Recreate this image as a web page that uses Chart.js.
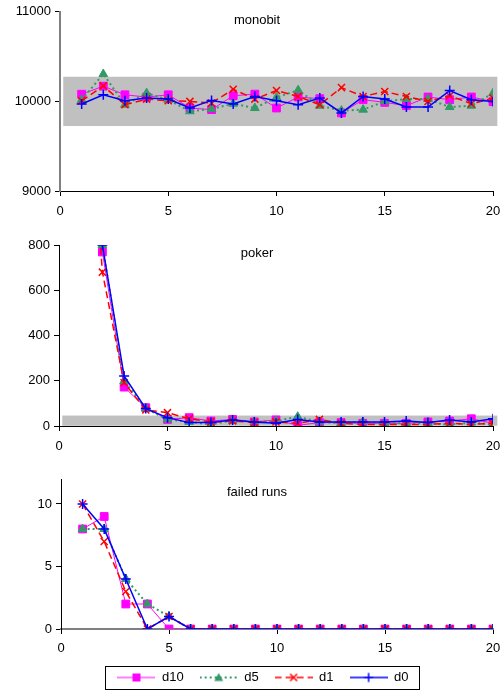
<!DOCTYPE html>
<html>
<head>
<meta charset="utf-8">
<script src="https://cdn.jsdelivr.net/npm/chart.js@4.4.1/dist/chart.umd.min.js"></script>
<style>
  html, body { margin: 0; padding: 0; background: #fff; overflow: hidden; }
  canvas { position: absolute; left: 0; }
</style>
</head>
<body>
<canvas id="monobit" width="503" height="222" style="top:0px"></canvas>
<canvas id="poker" width="503" height="236" style="top:222px"></canvas>
<canvas id="runs" width="503" height="237" style="top:458px"></canvas>
<script>
// run index (x axis)
const runIdx = [1, 2, 3, 4, 5, 6, 7, 8, 9, 10, 11, 12, 13, 14, 15, 16, 17, 18, 19, 20];
const seriesNames = ['d10', 'd5', 'd1', 'd0'];

// monobit test
const monoD10 = [10080, 10170, 10074, 10048, 10074, 9926, 9908, 10063, 10081, 9926, 10049, 10030, 9871, 10019, 9989, 9952, 10049, 10019, 10049, 9997];
const monoD5 = [10018, 10305, 9963, 10092, 10018, 9890, 9915, 9974, 9926, 10044, 10125, 9952, 9897, 9908, 10000, 10026, 10026, 9937, 9952, 10092];
const monoD1 = [10007, 10173, 9963, 10026, 10007, 10000, 9982, 10136, 10026, 10121, 10055, 9963, 10154, 10055, 10110, 10055, 10000, 10063, 9974, 10037];
const monoD0 = [9971, 10074, 10007, 10037, 10026, 9926, 10011, 9971, 10055, 10007, 9963, 10037, 9871, 10055, 10026, 9937, 9937, 10121, 10018, 10000];
const monoBand = [9725, 10275];

// poker test
const pokerD10 = [2500, 769, 172, 81, 29, 37, 22, 29, 18, 27, 3, 15, 15, 12, 12, 12, 18, 22, 32, 12];
const pokerD5 = [2500, 800, 199, 77, 29, 18, 7, 25, 18, 22, 41, 18, 12, 18, 12, 12, 12, 6, 15, 7];
const pokerD1 = [2000, 680, 191, 71, 59, 32, 18, 22, 15, 18, 12, 29, 12, 7, 7, 7, 7, 12, 7, 12];
const pokerD0 = [2500, 800, 221, 77, 37, 15, 15, 27, 18, 12, 29, 18, 18, 18, 18, 22, 15, 27, 18, 32];
const pokerBand = [1, 46.17];

// failed runs
const runsD10 = [8, 9, 2, 2, 0, 0, 0, 0, 0, 0, 0, 0, 0, 0, 0, 0, 0, 0, 0, 0];
const runsD5 = [8, 8, 4, 2, 1, 0, 0, 0, 0, 0, 0, 0, 0, 0, 0, 0, 0, 0, 0, 0];
const runsD1 = [10, 7, 3, 0, 1, 0, 0, 0, 0, 0, 0, 0, 0, 0, 0, 0, 0, 0, 0, 0];
const runsD0 = [10, 8, 4, 0, 1, 0, 0, 0, 0, 0, 0, 0, 0, 0, 0, 0, 0, 0, 0, 0];

Chart.defaults.font.family = "'Liberation Sans', Arial, sans-serif";
Chart.defaults.font.size = 13;
Chart.defaults.color = '#000';

const styles = [
  { color: '#FF00FF', point: 'rect', radius: 5.5, width: 1, dash: [], order: 3 },
  { color: '#339966', point: 'triangle', radius: 5, width: 2, dash: [2, 3], order: 2 },
  { color: '#FF0000', point: 'crossRot', radius: 5, width: 1.5, dash: [7, 4], order: 1 },
  { color: '#0000FF', point: 'cross', radius: 5, width: 1.5, dash: [], order: 0 }
];

function makeSets(lists) {
  return lists.map((vals, i) => {
    const s = styles[i];
    return {
      label: seriesNames[i],
      data: vals.map((v, j) => ({ x: runIdx[j], y: v })),
      borderColor: s.color,
      backgroundColor: s.color,
      borderWidth: s.width,
      borderDash: s.dash,
      pointStyle: s.point,
      pointRadius: s.radius,
      pointBorderColor: s.color,
      pointBackgroundColor: s.color,
      pointBorderWidth: s.point.startsWith('cross') ? 1.5 : 1,
      tension: 0,
      order: s.order
    };
  });
}

// gray acceptance band + panel title + legend frame
const panelPlugin = {
  id: 'panel',
  beforeDatasetsDraw(chart, args, opts) {
    if (!opts.band) return;
    const { ctx, scales: { x, y } } = chart;
    const x0 = x.getPixelForValue(0.15), x1 = x.getPixelForValue(20.2);
    const y0 = y.getPixelForValue(opts.band[1]), y1 = y.getPixelForValue(opts.band[0]);
    ctx.save();
    ctx.fillStyle = '#C0C0C0';
    ctx.fillRect(x0, y0, x1 - x0, y1 - y0);
    ctx.restore();
  },
  afterDraw(chart, args, opts) {
    const ctx = chart.ctx;
    ctx.save();
    ctx.font = "13px 'Liberation Sans', Arial, sans-serif";
    ctx.fillStyle = '#000';
    ctx.textAlign = 'center';
    ctx.textBaseline = 'middle';
    ctx.fillText(opts.title, 257, opts.titleY);
    if (opts.legendBox && chart.legend && chart.legend.legendHitBoxes.length) {
      const hb = chart.legend.legendHitBoxes;
      const l = hb[0].left - 12, r = hb[hb.length - 1].left + hb[hb.length - 1].width + 11;
      const t = hb[0].top + hb[0].height / 2 - 11.5;
      ctx.strokeStyle = '#000';
      ctx.lineWidth = 1;
      ctx.strokeRect(Math.round(l) + 0.5, Math.round(t) + 0.5, Math.round(r - l), 23);
    }
    ctx.restore();
  }
};

function legendIcon(s) {
  const c = document.createElement('canvas');
  c.width = 38; c.height = 14;
  const g = c.getContext('2d');
  g.strokeStyle = s.color; g.fillStyle = s.color;
  g.lineWidth = s.width; g.setLineDash(s.dash);
  g.beginPath(); g.moveTo(0, 7); g.lineTo(38, 7); g.stroke();
  g.setLineDash([]);
  g.lineWidth = 1.5;
  if (s.point === 'rect') { g.fillRect(15, 3, 8, 8); }
  else if (s.point === 'triangle') { g.beginPath(); g.moveTo(19, 2.5); g.lineTo(23.5, 10.5); g.lineTo(14.5, 10.5); g.closePath(); g.fill(); }
  else if (s.point === 'crossRot') { g.beginPath(); g.moveTo(15.5, 3.5); g.lineTo(22.5, 10.5); g.moveTo(22.5, 3.5); g.lineTo(15.5, 10.5); g.stroke(); }
  else { g.beginPath(); g.moveTo(19, 2.5); g.lineTo(19, 11.5); g.moveTo(14.5, 7); g.lineTo(23.5, 7); g.stroke(); }
  return c;
}

function makeChart(id, lists, cfg) {
  return new Chart(document.getElementById(id), {
    type: 'line',
    data: { datasets: makeSets(lists) },
    plugins: [panelPlugin],
    options: {
      responsive: false,
      animation: false,
      layout: { padding: cfg.padding },
      plugins: {
        tooltip: { enabled: false },
        panel: { title: cfg.title, titleY: cfg.titleY, band: cfg.band, legendBox: cfg.legend },
        legend: cfg.legend ? {
          display: true,
          position: 'bottom',
          labels: {
            usePointStyle: true,
            pointStyleWidth: 38,
            padding: 16,
            font: { size: 13 },
            sort: (a, b) => a.datasetIndex - b.datasetIndex,
            generateLabels: (chart) => chart.data.datasets.map((d, i) => ({
              text: d.label, datasetIndex: i, pointStyle: legendIcon(styles[i]),
              fillStyle: styles[i].color, strokeStyle: styles[i].color, lineWidth: 0, hidden: false
            }))
          }
        } : { display: false }
      },
      scales: {
        x: {
          type: 'linear', min: 0, max: 20,
          ticks: { stepSize: 5, padding: cfg.xPad, color: '#000', maxRotation: 0 },
          grid: { drawOnChartArea: false, drawTicks: true, tickLength: 5, color: '#000' },
          border: { color: cfg.xBorder, width: cfg.xBorderW },
          afterFit: (s) => { s.height = cfg.xHeight; s.paddingLeft = 0; s.paddingRight = 0; }
        },
        y: {
          min: cfg.yMin, max: cfg.yMax,
          ticks: { stepSize: cfg.yStep, padding: 4, color: '#000', includeBounds: false, callback: (v) => String(v) },
          grid: { drawOnChartArea: false, drawTicks: true, tickLength: 5, color: '#000' },
          border: { color: cfg.yBorder, width: cfg.yBorderW },
          afterFit: (s) => { s.width = cfg.yWidth; }
        }
      }
    }
  });
}

makeChart('monobit', [monoD10, monoD5, monoD1, monoD0], {
  title: 'monobit', titleY: 20, band: monoBand,
  padding: { top: 11, right: 10, left: 0, bottom: 0 },
  yMin: 9000, yMax: 11000, yStep: 1000, yWidth: 60, xHeight: 31, xPad: 8,
  xBorder: '#000', xBorderW: 1, yBorder: '#808080', yBorderW: 2
});

makeChart('poker', [pokerD10, pokerD5, pokerD1, pokerD0], {
  title: 'poker', titleY: 31, band: pokerBand,
  padding: { top: 23, right: 10, left: 0, bottom: 0 },
  yMin: 0, yMax: 800, yStep: 200, yWidth: 59, xHeight: 32, xPad: 8,
  xBorder: '#000', xBorderW: 1, yBorder: '#000', yBorderW: 1
});

makeChart('runs', [runsD10, runsD5, runsD1, runsD0], {
  title: 'failed runs', titleY: 34, band: null, legend: true,
  padding: { top: 21, right: 10, left: 33, bottom: 1 },
  yMin: 0, yMax: 12, yStep: 5, yWidth: 28, xHeight: 26, xPad: 7,
  xBorder: '#808080', xBorderW: 2, yBorder: '#000', yBorderW: 1
});
</script>
</body>
</html>
